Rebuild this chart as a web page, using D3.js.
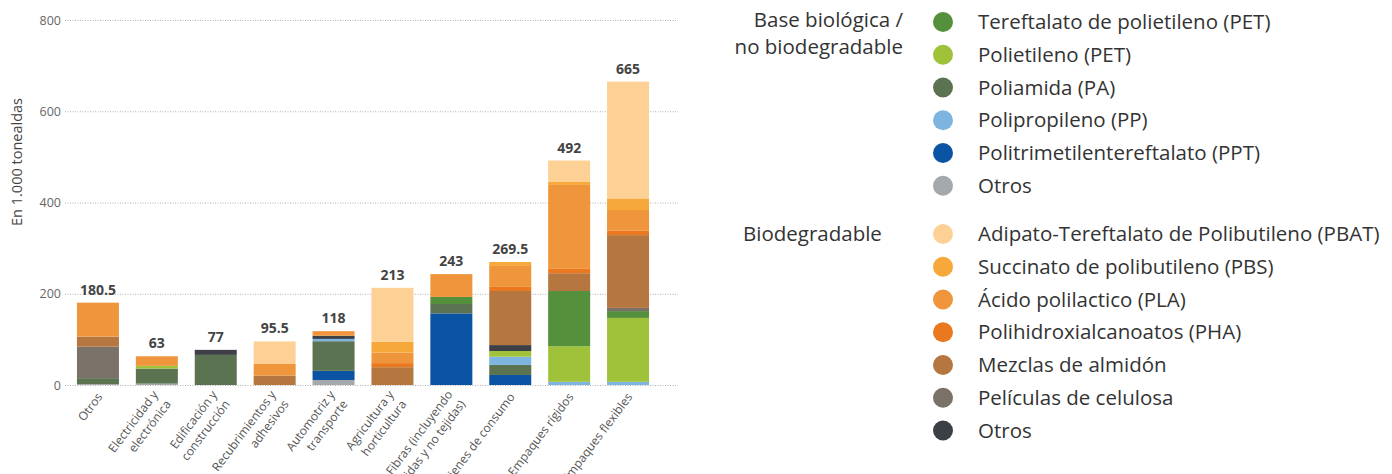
<!DOCTYPE html>
<html><head><meta charset="utf-8">
<script src="https://cdn.jsdelivr.net/npm/d3@7"></script>
<style>
html,body{margin:0;padding:0;background:#fff;}
svg{display:block;font-family:"Open Sans",sans-serif;}
</style></head>
<body><svg id="c" width="1392" height="474"></svg>
<script>
// ---------- DATA ----------
const categories = ["Otros","Electricidad y electrónica","Edificación y construcción","Recubrimientos y adhesivos","Automotriz y transporte","Agricultura y horticultura","Fibras (incluyendo tejidas y no tejidas)","Bienes de consumo","Empaques rígidos","Empaques flexibles"];
const categoryLines = [["Otros"],["Electricidad y","electrónica"],["Edificación y","construcción"],["Recubrimientos y","adhesivos"],["Automotriz y","transporte"],["Agricultura y","horticultura"],["Fibras (incluyendo","tejidas y no tejidas)"],["Bienes de consumo"],["Empaques rígidos"],["Empaques flexibles"]];
const totals = [180.5, 63, 77, 95.5, 118, 213, 243, 269.5, 492, 665];
const totalLabels = ["180.5","63","77","95.5","118","213","243","269.5","492","665"];
const yTicks = [0, 200, 400, 600, 800];

// series (stack order bottom → top)
const otrosBB   = [2, 3, 0, 0, 11, 0, 0, 0, 0, 0];
const ppt       = [0, 0, 0, 0, 20, 0, 157, 22, 0, 0];
const pa        = [13, 33, 66, 0, 65, 0, 20.5, 22, 0, 0];
const pp        = [0, 0, 0, 0, 5, 0, 0, 18, 7, 7];
const pe        = [0, 6, 0, 0, 0, 0, 0, 12.5, 78, 140];
const pet       = [0, 0, 0, 0, 0, 0, 15.5, 0, 121, 15];
const otrosBio  = [0, 0, 11, 0, 7, 0, 0, 13, 0, 0];
const peliculas = [69, 0, 0, 0, 0, 0, 0, 0, 0, 7];
const mezclas   = [22, 0, 0, 20.5, 0, 39, 0, 118.5, 39, 159.5];
const pha       = [0, 0, 0, 0, 0, 9, 0, 9, 9.5, 9.5];
const pla       = [74.5, 21, 0, 25.5, 10, 23, 50, 46, 184, 45.5];
const pbs       = [0, 0, 0, 0, 0, 24, 0, 8.5, 7.5, 25.5];
const pbat      = [0, 0, 0, 49.5, 0, 118, 0, 0, 46, 256];

const seriesKeys   = ["otrosBB","ppt","pa","pp","pe","pet","otrosBio","peliculas","mezclas","pha","pla","pbs","pbat"];
const seriesValues = [otrosBB, ppt, pa, pp, pe, pet, otrosBio, peliculas, mezclas, pha, pla, pbs, pbat];

const legendBaseKeys   = ["pet","pe","pa","pp","ppt","otrosBB"];
const legendBaseLabels = ["Tereftalato de polietileno (PET)","Polietileno (PET)","Poliamida (PA)","Polipropileno (PP)","Politrimetilentereftalato (PPT)","Otros"];
const legendBioKeys    = ["pbat","pbs","pla","pha","mezclas","peliculas","otrosBio"];
const legendBioLabels  = ["Adipato-Tereftalato de Polibutileno (PBAT)","Succinato de polibutileno (PBS)","Ácido polilactico (PLA)","Polihidroxialcanoatos (PHA)","Mezclas de almidón","Películas de celulosa","Otros"];

// ---------- STYLE ----------
const colors = {
  pet:"#55903d", pe:"#a0c23b", pa:"#5c7352", pp:"#7db5e0", ppt:"#0b54a3", otrosBB:"#a6a9ab",
  pbat:"#fdd195", pbs:"#f6a83a", pla:"#ef963d", pha:"#e9781f", mezclas:"#b5763f", peliculas:"#7a7169", otrosBio:"#3c3f45"
};
const legendFont = 20.5;

const svg = d3.select("#c");

const y = d3.scaleLinear().domain([0, 800]).range([385, 20]);
const x = d3.scaleBand().domain(categories).range([68.5, 657.5]).paddingInner(0.287).paddingOuter(0.1435);

// gridlines
svg.append("g").selectAll("line").data(yTicks).join("line")
  .attr("x1", 65).attr("x2", 678)
  .attr("y1", d => y(d) + 0.5).attr("y2", d => y(d) + 0.5)
  .attr("stroke", "#b0b0b0").attr("stroke-width", 1).attr("stroke-dasharray", "1,1.5");

// y axis labels
const yAxis = d3.axisLeft(y).tickValues(yTicks).tickSize(0).tickPadding(0).tickFormat(d3.format("d"));
const ya = svg.append("g").attr("transform", "translate(61,0)").call(yAxis);
ya.select(".domain").remove();
ya.selectAll("text").attr("font-size", 12.5).attr("fill", "#666").attr("font-family", "'Open Sans',sans-serif");

svg.append("text")
  .attr("transform", "translate(22,162) rotate(-90)")
  .attr("text-anchor", "middle")
  .attr("font-size", 14.5).attr("fill", "#444")
  .text("En 1.000 tonealdas");

// stack data
const table = categories.map((c, i) => {
  const o = {cat: c};
  seriesKeys.forEach((k, j) => o[k] = seriesValues[j][i]);
  return o;
});
const stacked = d3.stack().keys(seriesKeys)(table);

svg.append("g").selectAll("g").data(stacked).join("g")
  .attr("fill", d => colors[d.key])
  .selectAll("rect").data(d => d.filter(s => s[1] - s[0] > 0)).join("rect")
  .attr("x", d => x(d.data.cat))
  .attr("width", x.bandwidth())
  .attr("y", d => y(d[1]))
  .attr("height", d => y(d[0]) - y(d[1]));

// totals
svg.append("g").selectAll("text").data(categories).join("text")
  .attr("x", d => x(d) + x.bandwidth() / 2)
  .attr("y", (d, i) => y(totals[i]) - 8)
  .attr("text-anchor", "middle")
  .attr("font-size", 14).attr("font-weight", 700).attr("fill", "#444")
  .text((d, i) => totalLabels[i]);

// x labels
const lineH = 16;
const xl = svg.append("g").selectAll("text").data(categories).join("text")
  .attr("transform", d => `translate(${x(d) + x.bandwidth() / 2 + 5},397) rotate(-53)`)
  .attr("text-anchor", "end")
  .attr("font-size", 12).attr("fill", "#555");
xl.each(function(d, i) {
  const t = d3.select(this);
  const n = categoryLines[i].length;
  categoryLines[i].forEach((line, k) => {
    t.append("tspan").attr("x", 0)
      .attr("y", k * lineH - (n - 1) * 4)
      .text(line);
  });
});

// legend
function legend(keys, labels, y0) {
  const g = svg.append("g");
  const rows = g.selectAll("g").data(keys).join("g")
    .attr("transform", (d, i) => `translate(0,${y0 + i * 32.75})`);
  rows.append("circle").attr("cx", 943).attr("cy", 0).attr("r", 10).attr("fill", d => colors[d]);
  rows.append("text").attr("x", 978).attr("y", 0).attr("dy", "0.35em")
    .attr("font-size", legendFont).attr("fill", "#333").text((d, i) => labels[i]);
}
legend(legendBaseKeys, legendBaseLabels, 22);
legend(legendBioKeys, legendBioLabels, 234);

svg.append("text").attr("x", 903).attr("y", 20).attr("dy", "0.35em").attr("text-anchor", "end")
  .attr("font-size", legendFont).attr("fill", "#333").text("Base biológica /");
svg.append("text").attr("x", 903).attr("y", 47).attr("dy", "0.35em").attr("text-anchor", "end")
  .attr("font-size", legendFont).attr("fill", "#333").text("no biodegradable");
svg.append("text").attr("x", 743).attr("y", 234).attr("dy", "0.35em").attr("text-anchor", "start")
  .attr("font-size", legendFont).attr("fill", "#333").text("Biodegradable");
</script></body></html>
